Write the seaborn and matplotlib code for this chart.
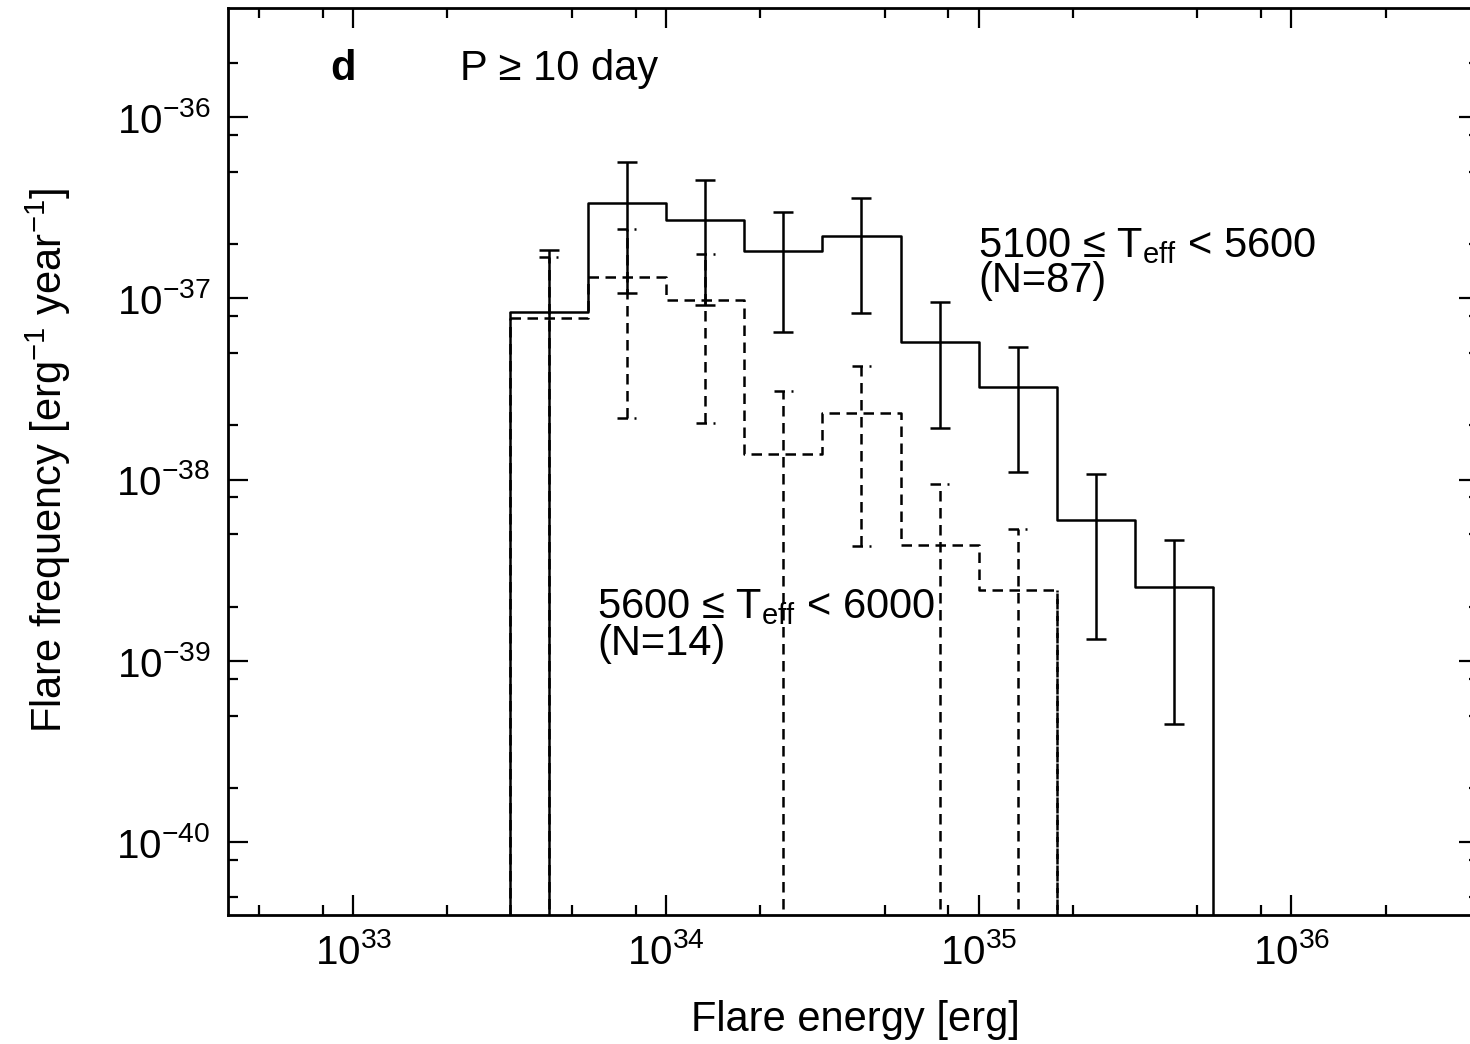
import numpy as np
import pandas as pd
import matplotlib
matplotlib.use("Agg")
import matplotlib.pyplot as plt
import seaborn as sns
from matplotlib.ticker import LogLocator, FuncFormatter, NullFormatter

# ---------------- data ----------------
bin_width_dex = 0.25
bin_range_dex = (33.5, 35.75)

# 5100 <= Teff < 5600 (N=87), solid
logE_A = [33.625, 33.875, 34.125, 34.375, 34.625, 34.875, 35.125, 35.375, 35.625]
freq_A = [8.45e-38, 3.37e-37, 2.71e-37, 1.83e-37, 2.21e-37, 5.75e-38, 3.24e-38, 6.03e-39, 2.56e-39]
err_A = [1.00e-37, 2.30e-37, 1.79e-37, 1.18e-37, 1.38e-37, 3.82e-38, 2.13e-38, 4.71e-39, 2.11e-39]

# 5600 <= Teff < 6000 (N=14), dashed
logE_B = [33.625, 33.875, 34.125, 34.375, 34.625, 34.875, 35.125]
freq_B = [7.82e-38, 1.32e-37, 9.82e-38, 1.39e-38, 2.34e-38, 4.39e-39, 2.48e-39]
err_B = [9.1e-38, 1.10e-37, 7.76e-38, 1.68e-38, 1.91e-38, 5.1e-39, 2.86e-39]

label_A = "5100 \u2264 T$_{\\mathregular{eff}}$ < 5600"
label_A2 = "(N=87)"
label_B = "5600 \u2264 T$_{\\mathregular{eff}}$ < 6000"
label_B2 = "(N=14)"
panel_letter = "d"
panel_title = "P \u2265 10 day"
xlabel = "Flare energy [erg]"
ylabel = "Flare frequency [erg$^{\\mathregular{-1}}$ year$^{\\mathregular{-1}}$]"
xlim_dex = (32.6, 36.6)
ylim_dex = (-40.4, -35.4)

# ---------------- style ----------------
sns.set_style("ticks")
plt.rcParams["font.family"] = ["Liberation Sans", "DejaVu Sans"]
plt.rcParams["mathtext.fontset"] = "custom"
plt.rcParams["mathtext.rm"] = "Liberation Sans"
plt.rcParams["mathtext.it"] = "Liberation Sans:italic"
plt.rcParams["mathtext.bf"] = "Liberation Sans:bold"
plt.rcParams["axes.linewidth"] = 2.0
plt.rcParams["text.color"] = "black"
plt.rcParams["axes.labelcolor"] = "black"
plt.rcParams["xtick.color"] = "black"
plt.rcParams["ytick.color"] = "black"

LW = 1.8
DASH = (0, (4.2, 2.6))

fig = plt.figure(figsize=(14.7, 10.44), dpi=100)
ax = fig.add_axes([228.3 / 1470, (1044 - 915) / 1044, (1479 - 228.3) / 1470, (915 - 8.3) / 1044])
ax.set_yscale("log")

dfA = pd.DataFrame({"energy": 10 ** np.array(logE_A), "freq": freq_A, "err": err_A})
dfB = pd.DataFrame({"energy": 10 ** np.array(logE_B), "freq": freq_B, "err": err_B})

for df, ls in ((dfA, "-"), (dfB, DASH)):
    sns.histplot(data=df, x="energy", weights="freq", binwidth=bin_width_dex,
                 binrange=bin_range_dex, log_scale=True, element="step", fill=False,
                 color="black", linewidth=LW, linestyle=ls, ax=ax)

ax.set_xscale("log")
ax.set_yscale("log")
ax.set_xlim(10 ** xlim_dex[0], 10 ** xlim_dex[1])
ax.set_ylim(10 ** ylim_dex[0], 10 ** ylim_dex[1])
ybot = 10 ** ylim_dex[0]

# vertical drops at both ends of each histogram
for logE, freq, ls in ((logE_A, freq_A, "solid"), (logE_B, freq_B, DASH)):
    left = 10 ** (logE[0] - bin_width_dex / 2)
    right = 10 ** (logE[-1] + bin_width_dex / 2)
    ax.vlines([left, right], ybot, [freq[0], freq[-1]], colors="black",
              linewidth=LW, linestyles=ls)

# error bars, solid
ax.errorbar(dfA["energy"], dfA["freq"], yerr=dfA["err"], fmt="none", ecolor="black",
            elinewidth=LW, capsize=6.85, capthick=LW, zorder=3)

# error bars, dashed
ebB = ax.errorbar(dfB["energy"], dfB["freq"], yerr=dfB["err"], fmt="none", ecolor="black",
                  elinewidth=LW, capsize=0, zorder=2)
ebB[2][0].set_linestyle(DASH)
cap_half = 0.0304
xB = dfB["energy"].to_numpy()
topB = (dfB["freq"] + dfB["err"]).to_numpy()
lowB = (dfB["freq"] - dfB["err"]).to_numpy()
ax.hlines(topB, xB * 10 ** -cap_half, xB * 10 ** cap_half, colors="black",
          linewidth=LW, linestyles=DASH)
pos = lowB > 0
ax.hlines(lowB[pos], xB[pos] * 10 ** -cap_half, xB[pos] * 10 ** cap_half, colors="black",
          linewidth=LW, linestyles=DASH)

# ticks
fmt = FuncFormatter(lambda v, p: r"$\mathregular{10^{%d}}$" % int(round(np.log10(v))))
for axis in (ax.xaxis, ax.yaxis):
    axis.set_major_locator(LogLocator(base=10, subs=(1.0,), numticks=20))
    axis.set_minor_locator(LogLocator(base=10, subs=(2.0, 5.0, 8.0), numticks=20))
    axis.set_major_formatter(fmt)
    axis.set_minor_formatter(NullFormatter())
ax.tick_params(which="both", direction="in", top=True, right=True, width=1.6,
               colors="black", labelsize=29)
ax.tick_params(which="major", length=14.4)
ax.tick_params(which="minor", length=7.0)
ax.tick_params(axis="x", which="major", pad=13)
ax.tick_params(axis="y", which="major", pad=13)
for s in ax.spines.values():
    s.set_color("black")
    s.set_linewidth(2.0)

ax.set_xlabel("")
ax.set_ylabel("")
fig.text(855 / 1470, 1 - 1020 / 1044, xlabel, ha="center", va="center", fontsize=30)
fig.text(48 / 1470, 1 - 460 / 1044, ylabel, ha="center", va="center", rotation=90, fontsize=30)

# annotations
ax.text(0.0815, 0.9206, panel_letter, transform=ax.transAxes, fontsize=30,
        fontweight="bold", ha="left", va="baseline")
ax.text(0.185, 0.9206, panel_title, transform=ax.transAxes, fontsize=30,
        ha="left", va="baseline")
ax.text(0.5995, 0.726, label_A, transform=ax.transAxes, fontsize=30, ha="left", va="baseline")
ax.text(0.5995, 0.687, label_A2, transform=ax.transAxes, fontsize=30, ha="left", va="baseline")
ax.text(0.295, 0.3275, label_B, transform=ax.transAxes, fontsize=30, ha="left", va="baseline")
ax.text(0.295, 0.287, label_B2, transform=ax.transAxes, fontsize=30, ha="left", va="baseline")

fig.savefig("out.png", dpi=100)
